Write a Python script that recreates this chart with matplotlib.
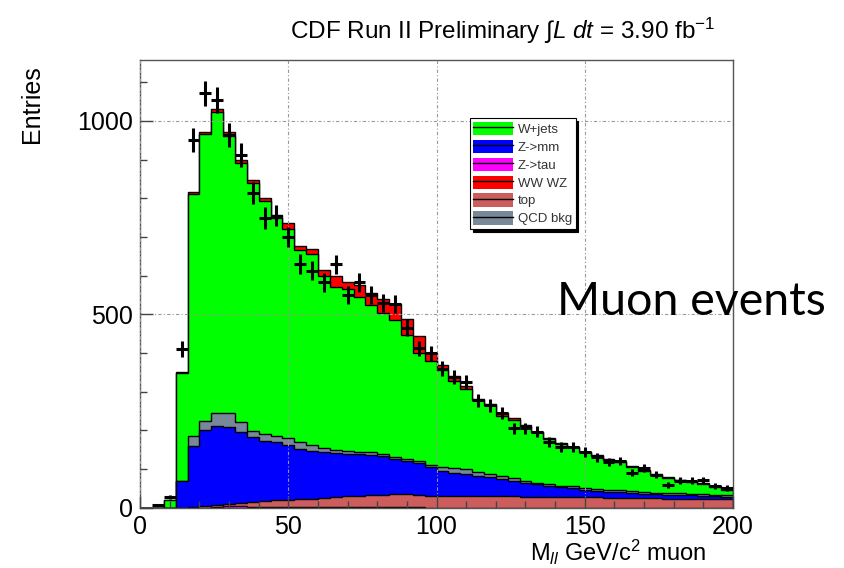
import numpy as np
import matplotlib.pyplot as plt
from matplotlib.patches import Patch
from matplotlib.lines import Line2D
from matplotlib.legend_handler import HandlerTuple

plt.rcParams['font.family'] = ['Liberation Sans', 'DejaVu Sans']
plt.rcParams['mathtext.fontset'] = 'custom'
plt.rcParams['mathtext.rm'] = 'Liberation Sans'
plt.rcParams['mathtext.it'] = 'Liberation Sans:italic'

# M_ll binning: 50 bins of 4 GeV from 0 to 200
edges = np.arange(0, 204, 4)

# per-sample event counts, stacked bottom to top
ztau = [0, 0, 0, 0, 0, 0, 3, 4, 4, 3, 2, 2, 2, 1, 1, 1, 1, 1, 1, 2,
        2, 3, 3, 1, 0, 0, 0, 0, 0, 0, 0, 0, 0, 0, 0, 0, 0, 0, 0, 0,
        0, 0, 0, 0, 0, 0, 0, 0, 0, 0]
top = [0, 0, 0, 0, 2, 4, 4, 5, 8, 12, 15, 17, 18, 21, 22, 25, 27, 29, 30, 30,
       31, 33, 33, 32, 31, 31, 31, 31, 30, 30, 30, 30, 29, 29, 28, 28, 27, 27, 27, 26,
       26, 25, 25, 25, 24, 24, 23, 23, 22, 22]
zmm = [0, 0, 0, 70, 158, 198, 205, 201, 185, 167, 156, 150, 142, 130, 125, 119, 114, 110, 107, 105,
       102, 90, 84, 82, 75, 65, 59, 57, 53, 50, 44, 40, 36, 32, 29, 27, 24, 19, 17, 16,
       14, 13, 11, 10, 10, 9, 9, 8, 8, 7]
qcd = [0, 0, 0, 0, 25, 23, 33, 35, 24, 17, 18, 16, 18, 19, 15, 10, 8, 6, 5, 6,
       3, 6, 6, 5, 4, 9, 12, 11, 9, 8, 9, 7, 5, 4, 5, 2, 6, 5, 5, 5,
       5, 5, 5, 4, 4, 4, 4, 4, 3, 3]
wjets = [0, 0, 20, 278, 625, 740, 777, 717, 669, 641, 602, 563, 540, 495, 492, 445, 421, 420, 402, 380,
         366, 353, 320, 281, 270, 251, 225, 208, 186, 177, 154, 151, 142, 130, 116, 109, 99, 92, 86, 77,
         73, 62, 55, 47, 40, 34, 30, 27, 22, 13]
wwwz = [0, 0, 0, 4, 6, 7, 9, 9, 9, 8, 8, 10, 16, 12, 13, 14, 28, 17, 30, 33,
        35, 41, 41, 43, 21, 12, 13, 7, 3, 3, 9, 5, 2, 2, 2, 2, 2, 2, 2, 2,
        2, 2, 2, 2, 2, 2, 2, 2, 2, 2]

# observed muon events
data = [0, 6, 27, 410, 951, 1071, 1054, 964, 912, 813, 749, 755, 700, 630, 613, 583, 629, 551, 583, 549,
        529, 526, 466, 412, 399, 360, 338, 326, 278, 265, 244, 205, 205, 197, 171, 158, 158, 144, 131, 119,
        121, 91, 102, 85, 59, 70, 70, 72, 57, 51]

samples = [
    ('Z->tau', ztau, '#ff00ff'),
    ('top', top, '#cd5c5c'),
    ('Z->mm', zmm, '#0000ff'),
    ('QCD bkg', qcd, '#778899'),
    ('W+jets', wjets, '#00ff00'),
    ('WW WZ', wwwz, '#ff0000'),
]
legend_order = ['W+jets', 'Z->mm', 'Z->tau', 'WW WZ', 'top', 'QCD bkg']

fig = plt.figure(figsize=(8.44, 5.68), dpi=100)
ax = fig.add_axes([0.166, 0.106, 0.7025, 0.788])

# THStack style: cumulative histograms drawn from the top down
cum = np.cumsum([np.asarray(s[1], dtype=float) for s in samples], axis=0)
for i in range(len(samples) - 1, -1, -1):
    ax.stairs(cum[i], edges, fill=True, color=samples[i][2], zorder=2)
    ax.stairs(cum[i], edges, color='black', lw=1.0, zorder=2)

# data points with sqrt(N) errors
centers = 0.5 * (edges[:-1] + edges[1:])
data = np.asarray(data, dtype=float)
mask = data > 0
ax.errorbar(centers[mask], data[mask], xerr=2, yerr=np.sqrt(data[mask]),
            fmt='none', ecolor='black', elinewidth=2.2, capsize=0, zorder=4)

ax.set_xlim(0, 200)
ax.set_ylim(0, 1157)
ax.set_xticks([0, 50, 100, 150, 200])
ax.set_xticks(np.arange(0, 201, 10), minor=True)
ax.set_yticks([0, 500, 1000])
ax.set_yticks(np.arange(0, 1101, 100), minor=True)
ax.tick_params(which='both', direction='in', top=False, right=False,
               labelsize=18, width=1, color='#444444')
ax.tick_params(which='major', length=9, pad=5)
ax.tick_params(which='minor', length=5)
for sp in ax.spines.values():
    sp.set_color('#555555')
    sp.set_linewidth(1.0)
ax.grid(True, which='major', color='#999999', lw=0.8,
        linestyle=(0, (3, 2, 1, 2)), zorder=3)
ax.set_axisbelow(False)

# legend box with black shadow
handles = []
labels = []
lookup = {s[0]: s[2] for s in samples}
for name in legend_order:
    handles.append((Patch(facecolor=lookup[name], edgecolor='none'),
                    Line2D([], [], color='black', lw=1.0)))
    labels.append(name)
leg = ax.legend(handles, labels, handler_map={tuple: HandlerTuple(ndivide=1)},
                loc='upper left', bbox_to_anchor=(0.545, 0.885), fontsize=9.5,
                frameon=True, fancybox=False, shadow={'color': 'black', 'alpha': 1},
                edgecolor='black', borderpad=0.25, labelspacing=0.3,
                handlelength=3.0, handleheight=1.15, handletextpad=0.4)
leg.get_frame().set_linewidth(0.8)
for t in leg.get_texts():
    t.set_color('#333333')
leg.set_zorder(5)

fig.text(0.596, 0.945, r'CDF Run II Preliminary $\int$$\mathit{L\ dt}$ = 3.90 fb$^{-1}$',
         ha='center', va='center', fontsize=17.5)
fig.text(0.038, 0.885, 'Entries', rotation=90, ha='center', va='top', fontsize=18)
fig.text(0.837, 0.028, r'M$_{ll}$ GeV/c$^{2}$ muon', ha='right', va='center', fontsize=17)
fig.text(0.66, 0.468, 'Muon events', ha='left', va='center', fontsize=33.5,
         family='Lato')

fig.savefig('out.png', dpi=100)
